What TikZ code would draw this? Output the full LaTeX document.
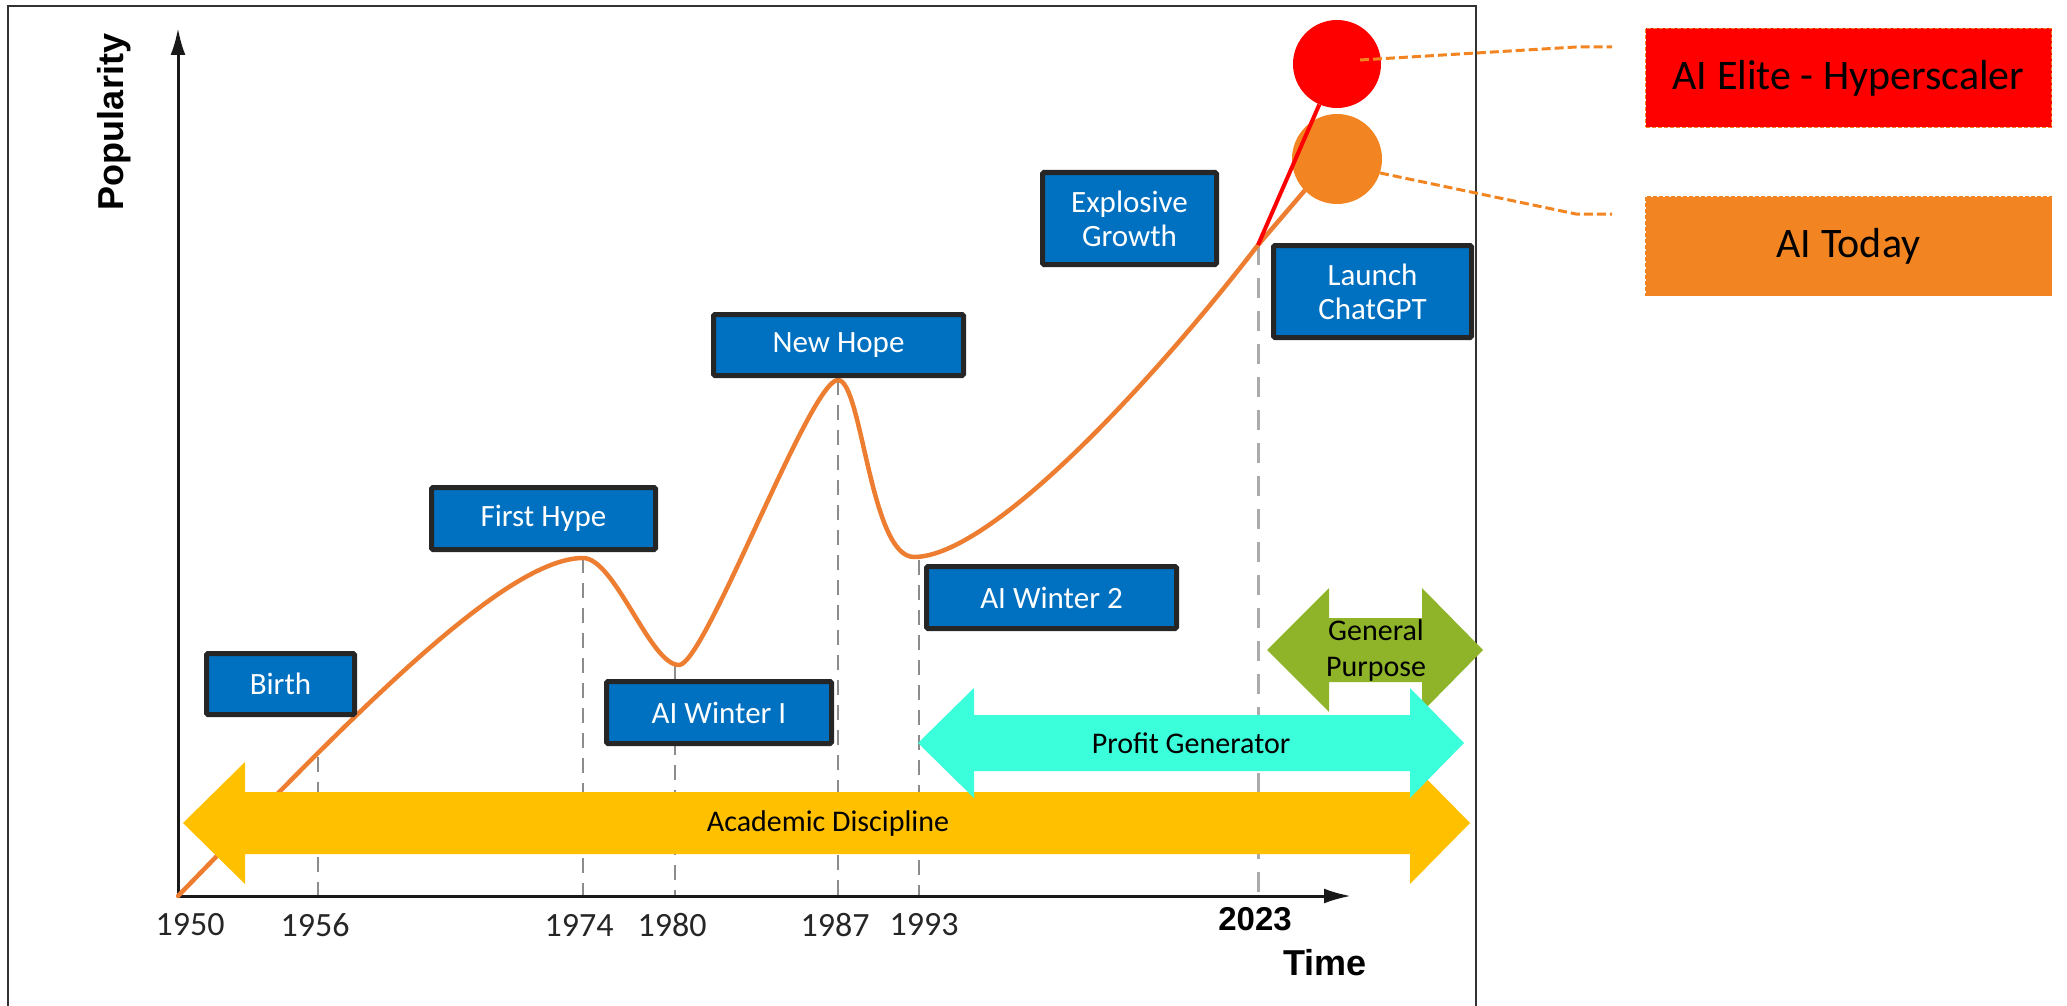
\documentclass[tikz,border=0pt]{standalone}
\usepackage{fontspec}
\setmainfont{Carlito}
\newfontfamily\arialfont{Liberation Sans}
\usetikzlibrary{arrows.meta,calc}
\definecolor{boxblue}{HTML}{0070C0}
\definecolor{boxedge}{HTML}{262626}
\definecolor{curveor}{HTML}{ED7D31}
\definecolor{circor}{HTML}{F28522}
\definecolor{ayellow}{HTML}{FFC000}
\definecolor{acyan}{HTML}{3BFFDA}
\definecolor{agreen}{HTML}{8FB42A}
\definecolor{framegray}{HTML}{333333}
\definecolor{dashgray}{HTML}{8C8C8C}
\definecolor{dashlight}{HTML}{ABABAB}
\begin{document}
\begin{tikzpicture}[x=1pt,y=-1pt,
 evt/.style={draw=boxedge, line width=5pt, fill=boxblue, text=white, font=\fontsize{31}{34}\selectfont, align=center, inner sep=0pt, rounded corners=1.5pt},
 tag/.style={draw=circor, dash pattern=on 4pt off 2pt, line width=1.5pt, inner sep=0pt, font=\fontsize{42}{46}\selectfont, minimum width=406pt, minimum height=99pt},
 guide/.style={draw=dashgray, line width=2pt, dash pattern=on 15pt off 10pt},
 guidelight/.style={draw=dashlight, line width=3pt, dash pattern=on 20pt off 13pt},
 year/.style={font=\fontsize{34}{36}\selectfont, text=black!85, inner sep=0pt},
 lead/.style={draw=circor, line width=3pt, dash pattern=on 9pt off 4pt},
 band/.style={font=\fontsize{30}{36}\selectfont, align=center, inner sep=0pt},
 axislbl/.style={font=\arialfont\bfseries\fontsize{36}{40}\selectfont, inner sep=0pt}
]
\useasboundingbox (0,0) rectangle (2067,1006);
% frame
\draw[framegray, line width=2pt] (8,1006) -- (8,6) -- (1476,6) -- (1476,1006);

% guide lines
\foreach \x/\y/\n in {318/757/a,583/558/b,675/665/c,838/380/d,919/560/e}{
  \coordinate (top\n) at (\x,\y);
  \coordinate (bot\n) at (\x,896);
  \draw[guide] (top\n) -- (bot\n);
}
\coordinate (c2023) at (1258,245);
\coordinate (b2023) at (1258,896);
\draw[guidelight] (c2023) -- (b2023);

% axes
\coordinate (O) at (178,896);
\coordinate (ytip) at (178,28);
\coordinate (xtip) at (1351,896);
\draw[black!90, line width=3pt, -{Latex[length=27pt,width=15pt]}] (O) -- (ytip);
\draw[black!90, line width=3pt, -{Latex[length=27pt,width=15pt]}] (O) -- (xtip);

% curve
\draw[curveor, line width=4.5pt, line cap=round, line join=round]
  (O) .. controls (330,740) and (500,558) .. (583,558)
      .. controls (615,558) and (650,665) .. (679,665)
      .. controls (705,665) and (810,380) .. (838,380)
      .. controls (862,380) and (870,557) .. (914,557)
      .. controls (990,557) and (1150,385) .. (c2023)
      -- (1312,182);

% circles
\node[circle, fill=red, minimum size=88pt, inner sep=0pt] (elite) at (1337,64) {};
\node[circle, fill=circor, minimum size=90pt, inner sep=0pt] (today) at (1337,159) {};
\draw[red, line width=4pt] (c2023) -- (elite);

% bands
\fill[ayellow] (183,823) -- (245,762) -- (245,792) -- (1410,792) -- (1410,762) -- (1470,823)
  -- (1410,884) -- (1410,854) -- (245,854) -- (245,884) -- cycle;
\node[band] (acad) at (828,823) {Academic Discipline};
\fill[agreen] (1267,650) -- (1329,588) -- (1329,618) -- (1422,618) -- (1422,588) -- (1483,650)
  -- (1422,712) -- (1422,682) -- (1329,682) -- (1329,712) -- cycle;
\node[band] (gp) at (1376,650) {General\\Purpose};
\fill[acyan] (918,743) -- (974,688) -- (974,715) -- (1410,715) -- (1410,688) -- (1464,743)
  -- (1410,798) -- (1410,771) -- (974,771) -- (974,798) -- cycle;
\node[band] (profit) at (1191,743) {Profit Generator};

% event boxes
\node[evt, minimum width=148pt, minimum height=61pt] (birth) at (280.5,684) {Birth};
\node[evt, minimum width=224pt, minimum height=62pt] (hype) at (543.5,518.5) {First Hype};
\node[evt, minimum width=225pt, minimum height=62pt] (win1) at (719,712.5) {AI Winter I};
\node[evt, minimum width=250pt, minimum height=61pt] (hope) at (838.5,345) {New Hope};
\node[evt, minimum width=250pt, minimum height=62pt] (win2) at (1051.5,597.5) {AI Winter 2};
\node[evt, minimum width=174pt, minimum height=92pt] (explo) at (1129.5,218.5) {Explosive\\Growth};
\node[evt, minimum width=198pt, minimum height=92pt] (gpt) at (1372.5,291.5) {Launch\\ChatGPT};

% tag boxes
\node[tag, fill=red] (tagelite) at (1848.5,78) {AI Elite - Hyperscaler};
\node[tag, fill=circor] (tagtoday) at (1848.5,246) {AI Today};
\coordinate (s1) at (1360,60);
\coordinate (e1) at (1612,47);
\coordinate (e2) at (1612,214);
\draw[lead] (s1) -- (1576,47) -- (e1);
\draw[lead] (today.-18) -- (1576,214) -- (e2);

% axis labels
\node[axislbl, rotate=90] (pop) at (114,122) {Popularity};
\node[axislbl] (time) at (1325,963) {Time};
\node[axislbl, font=\arialfont\bfseries\fontsize{33}{36}\selectfont] (y2023) at (1255,919) {2023};
\node[year] (y1950) at (190,925) {1950};
\node[year] (y1956) at (315,925) {1956};
\node[year] (y1974) at (579,925) {1974};
\node[year] (y1980) at (672,925) {1980};
\node[year] (y1987) at (835,925) {1987};
\node[year] (y1993) at (924,925) {1993};
\end{tikzpicture}
\end{document}
